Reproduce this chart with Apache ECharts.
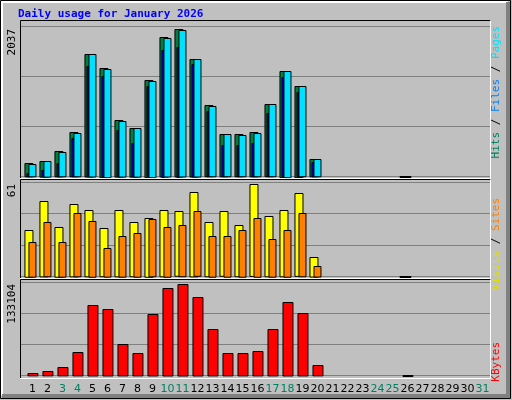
<!DOCTYPE html>
<html><head><meta charset="utf-8">
<script src="https://cdn.jsdelivr.net/npm/echarts@6/dist/echarts.min.js"></script>
<style>html,body{margin:0;padding:0;background:#c0c0c0}#chart{width:512px;height:400px}</style>
</head><body><div id="chart"></div>
<script>
// daily data, day 1..31
var days = [];
for (var d = 1; d <= 31; d++) days.push(d);
var weekendDays = [3, 4, 10, 11, 17, 18, 24, 25, 31];

var hits   = [184,216,350,612,1693,1509,782,672,1343,1927,2037,1624,984,584,584,612,998,1467,1260,239,0,0,0,0,0,12,0,0,0,0,0];
var files  = [170,216,336,598,1693,1495,768,672,1329,1914,2024,1624,971,584,570,598,998,1467,1247,239,0,0,0,0,0,8,0,0,0,0,0];
var pages  = [46,87,184,529,1523,1385,639,460,1247,1757,1799,1555,902,432,432,460,874,1371,1164,198,0,0,0,0,0,4,0,0,0,0,0];
var visits = [31,50,33,48,44,32,44,36,39,44,43,56,36,43,34,61,40,44,55,13,0,0,0,0,0,0.5,0,0,0,0,0];
var sites  = [23,36,23,42,37,19,27,29,38,33,34,43,27,27,31,39,25,31,42,7,0,0,0,0,0,0.5,0,0,0,0,0];
var kbytes = [3400,6315,12145,34006,102504,96675,45665,32549,89387,127280,133104,114163,67526,32549,32549,35463,67526,106876,90845,15060,0,0,0,0,0,700,0,0,0,0,0];

var maxHits = 2037, maxVisits = 61, maxKbytes = 133104;

var chart = echarts.init(document.getElementById('chart'));

var panels = [
  {top: 26.7, height: 150, max: 2073},
  {top: 181.8, height: 94.5, max: 62.7},
  {top: 282, height: 93.7, max: 136300}
];

function barSeries(data, idx, color, x0, x1, z) {
  return {
    type: 'custom', xAxisIndex: idx, yAxisIndex: idx, z: z,
    data: data.map(function (v, i) { return [days[i], v]; }),
    renderItem: function (params, api) {
      var v = api.value(1);
      if (!v) return null;
      var p = api.coord([api.value(0), v]);
      var b = api.coord([api.value(0), 0]);
      return {
        type: 'rect',
        shape: {x: p[0] + x0 + 0.5, y: Math.round(p[1]) + 0.5, width: x1 - x0, height: Math.max(b[1] - p[1], 1)},
        style: {fill: color, stroke: '#000', lineWidth: 1}
      };
    }
  };
}

var grids = [], xAxes = [], yAxes = [];
panels.forEach(function (p, i) {
  grids.push({left: 20, right: 22, top: p.top, height: p.height});
  xAxes.push({
    type: 'value', gridIndex: i, min: 0.17, max: 31.5,
    axisLine: {show: false}, axisTick: {show: false}, splitLine: {show: false},
    axisLabel: i < 2 ? {show: false} : {
      show: true, customValues: days, margin: 8, fontFamily: 'DejaVu Sans', fontSize: 11,
      formatter: function (v) { return weekendDays.indexOf(v) >= 0 ? '{w|' + v + '}' : '{n|' + v + '}'; },
      rich: {w: {color: '#008060', fontSize: 11, fontFamily: 'DejaVu Sans'}, n: {color: '#000', fontSize: 11, fontFamily: 'DejaVu Sans'}}
    }
  });
  yAxes.push({
    type: 'value', gridIndex: i, min: 0, max: p.max, interval: p.max / 3,
    axisLine: {show: false}, axisTick: {show: false}, axisLabel: {show: false},
    splitLine: {show: true, lineStyle: {color: '#808080', width: 1}}
  });
});

var series = [
  barSeries(hits, 0, '#008040', -8, 0, 1),
  barSeries(pages, 0, '#0000ff', -6, -4, 2),
  barSeries(files, 0, '#00e0ff', -4, 3, 3),
  barSeries(visits, 1, '#ffff00', -8, 0, 1),
  barSeries(sites, 1, '#ff8000', -4, 3, 2),
  barSeries(kbytes, 2, '#ff0000', -5, 5, 1)
];

function vtext(x, y, parts) {
  return {type: 'text', x: x, y: y, rotation: Math.PI / 2, z: 10,
    style: {text: parts, fontFamily: 'DejaVu Sans Mono', fontSize: 11, textAlign: 'right', textVerticalAlign: 'middle',
      rich: {a: {fill: '#00e0ff'}, b: {fill: '#0080ff'}, c: {fill: '#008060'}, k: {fill: '#000'},
             y: {fill: '#e0e000'}, o: {fill: '#ff8000'}, r: {fill: '#ff0000'}}}};
}

var graphics = [
  // outer frame
  {type: 'rect', shape: {x: 0.5, y: 0.5, width: 510, height: 398}, style: {fill: '#c0c0c0', stroke: '#000'}, z: -10},
  {type: 'polyline', shape: {points: [[2, 396], [2, 2], [508, 2]]}, style: {stroke: '#fff', lineWidth: 2, fill: null}, z: -9},
  {type: 'polyline', shape: {points: [[508, 2], [508, 396], [2, 396]]}, style: {stroke: '#808080', lineWidth: 4, fill: null}, z: -9},
  {type: 'text', x: 18, y: 9, style: {text: 'Daily usage for January 2026', fill: '#0000ff', fontFamily: 'DejaVu Sans Mono', fontSize: 11, fontWeight: 'bold'}},
  vtext(12, 29, String(maxHits)),
  vtext(12, 184, String(maxVisits)),
  vtext(12, 284, String(maxKbytes)),
  vtext(496, 26, '{c|Hits}{k| / }{b|Files}{k| / }{a|Pages}'),
  vtext(496, 198, '{y|Visits}{k| / }{o|Sites}'),
  vtext(496, 342, '{r|KBytes}')
];
// panel borders
[[20, 20, 178], [20, 179, 278], [20, 279, 378]].forEach(function (b) {
  graphics.push({type: 'polyline', shape: {points: [[b[0] + 0.5, b[2]], [b[0] + 0.5, b[1] + 0.5], [490.5, b[1] + 0.5]]}, style: {stroke: '#000', fill: null}, z: 5});
  graphics.push({type: 'polyline', shape: {points: [[490.5, b[1] + 0.5], [490.5, b[2] + 0.5], [b[0], b[2] + 0.5]]}, style: {stroke: '#fff', fill: null}, z: 5});
});

chart.setOption({
  animation: false,
  backgroundColor: '#c0c0c0',
  grid: grids, xAxis: xAxes, yAxis: yAxes,
  series: series,
  graphic: graphics
});
</script></body></html>
